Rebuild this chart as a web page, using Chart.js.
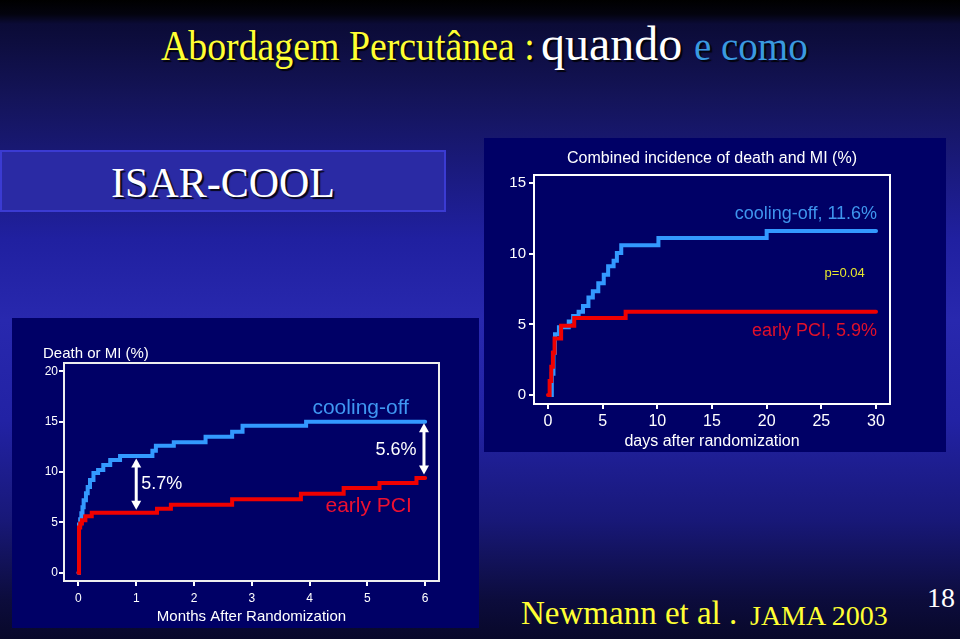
<!DOCTYPE html>
<html>
<head>
<meta charset="utf-8">
<script src="https://cdn.jsdelivr.net/npm/chart.js@4.4.1/dist/chart.umd.min.js"></script>
<style>
html,body{margin:0;padding:0;}
body{width:960px;height:639px;overflow:hidden;position:relative;
  background:linear-gradient(to bottom,#000000 0px,#03030e 14px,#0b0b36 24px,#14145a 100px,#2020a0 240px,#2828ae 320px,#2222a4 420px,#181878 520px,#0c0c3c 600px,#08082a 639px);}
.t{position:absolute;font-family:"Liberation Serif","Times New Roman",serif;white-space:nowrap;line-height:1;}
.sh{text-shadow:2px 2px 1px rgba(0,0,0,0.85);}
.panel{position:absolute;background:#000066;}
canvas{display:block;}
</style>
</head>
<body>
<div class="t sh" style="left:161px;top:25px;font-size:42px;color:#ffff33;transform:scaleX(0.9);transform-origin:0 0;">Abordagem Percutânea :</div>
<div class="t sh" style="left:541px;top:20px;font-size:48px;color:#ffffff;">quando</div>
<div class="t sh" style="left:694px;top:27px;font-size:39px;color:#3a9ae0;">e como</div>

<div style="position:absolute;left:0;top:150px;width:446px;height:62px;box-sizing:border-box;border:2px solid #3b3bd2;background:#2a2aa4;"></div>
<div class="t sh" style="left:0;width:446px;text-align:center;top:161.5px;font-size:42px;color:#ffffff;">ISAR-COOL</div>

<div class="panel" style="left:12px;top:318px;width:467px;height:310px;"><canvas id="cl" width="467" height="310"></canvas></div>
<div class="panel" style="left:484px;top:138px;width:462px;height:314px;"><canvas id="cr" width="462" height="314"></canvas></div>

<div class="t" style="left:521px;top:597px;font-size:33px;color:#ffff33;">Newmann et al .</div>
<div class="t" style="left:750px;top:601.5px;font-size:28px;color:#ffff33;">JAMA 2003</div>
<div class="t" style="left:927px;top:584px;font-size:28px;color:#ffffff;">18</div>

<script>
// ---------- Left chart (6 months) ----------
const monthTicks = [0, 1, 2, 3, 4, 5, 6];
const leftPctTicks = [0, 5, 10, 15, 20];
const coolMonths = [0, 0.01, 0.03, 0.05, 0.07, 0.09, 0.13, 0.16, 0.2, 0.26, 0.34, 0.43, 0.55, 0.72, 1.28, 1.34, 1.65, 2.2, 2.66, 2.84, 3.94, 6.0];
const coolPctLeft = [0, 4.8, 5.3, 5.9, 6.5, 7.2, 7.9, 8.5, 9.2, 9.9, 10.2, 10.7, 11.2, 11.6, 12.1, 12.6, 12.95, 13.5, 14.0, 14.6, 15.0, 15.0];
const pciMonths = [0, 0.01, 0.03, 0.06, 0.12, 0.23, 1.36, 1.6, 2.66, 3.85, 4.59, 5.21, 5.85, 6.0];
const pciPctLeft = [0, 4.5, 4.9, 5.2, 5.6, 5.95, 6.35, 6.75, 7.3, 7.85, 8.4, 8.9, 9.4, 9.4];
const gapMonths = [1.0, 5.98];
const gapLow = [6.25, 9.75];
const gapHigh = [11.35, 14.85];
const gapLabels = ['5.7%', '5.6%'];

// ---------- Right chart (30 days) ----------
const dayTicks = [0, 5, 10, 15, 20, 25, 30];
const rightPctTicks = [0, 5, 10, 15];
const coolDays = [0.2, 0.35, 0.5, 0.64, 1.0, 1.9, 2.3, 2.8, 3.2, 3.7, 4.1, 4.6, 5.1, 5.5, 6.0, 6.3, 6.7, 10.1, 20.0, 30];
const coolPctRight = [0, 1.5, 3.0, 4.3, 4.8, 5.2, 5.6, 5.9, 6.3, 6.9, 7.35, 7.9, 8.5, 9.1, 9.5, 10.05, 10.6, 11.1, 11.6, 11.6];
const pciDays = [0, 0.15, 0.3, 0.45, 0.6, 1.2, 2.4, 7.1, 30];
const pciPctRight = [0, 1.0, 2.0, 3.0, 4.0, 4.9, 5.45, 5.9, 5.9];

const SANS = '"Liberation Sans", Arial, sans-serif';
const BLUE = '#3399ff';
const RED = '#f00000';

function pts(xs, ys) { return xs.map((v, i) => ({ x: v, y: ys[i] })); }

const deco = {
  id: 'deco',
  beforeDatasetsDraw(chart, args, o) {
    const { ctx, chartArea: a } = chart;
    ctx.save();
    ctx.strokeStyle = o.frameColor || '#fff';
    ctx.lineWidth = 2;
    ctx.strokeRect(a.left, a.top, a.right - a.left, a.bottom - a.top);
    ctx.restore();
  },
  afterDatasetsDraw(chart, args, o) {
    const { ctx, chartArea: a, scales } = chart;
    const sx = scales.x, sy = scales.y;
    ctx.save();
    (o.arrows || []).forEach(ar => {
      const x = sx.getPixelForValue(ar.x);
      const y1 = sy.getPixelForValue(ar.lo), y2 = sy.getPixelForValue(ar.hi);
      const hl = 9, hw = 5;
      ctx.strokeStyle = '#fff'; ctx.fillStyle = '#fff'; ctx.lineWidth = 3;
      ctx.beginPath(); ctx.moveTo(x, y1 - hl + 1); ctx.lineTo(x, y2 + hl - 1); ctx.stroke();
      ctx.beginPath(); ctx.moveTo(x, y2); ctx.lineTo(x - hw, y2 + hl); ctx.lineTo(x + hw, y2 + hl); ctx.closePath(); ctx.fill();
      ctx.beginPath(); ctx.moveTo(x, y1); ctx.lineTo(x - hw, y1 - hl); ctx.lineTo(x + hw, y1 - hl); ctx.closePath(); ctx.fill();
    });
    (o.texts || []).forEach(t => {
      ctx.font = t.font; ctx.fillStyle = t.color; ctx.textAlign = t.align || 'left';
      ctx.textBaseline = 'alphabetic';
      const px = t.cx !== undefined ? (t.cx === 'mid' ? (a.left + a.right) / 2 : t.cx) : sx.getPixelForValue(t.x);
      const py = t.cy !== undefined ? t.cy : sy.getPixelForValue(t.y);
      ctx.fillText(t.text, px, py);
    });
    ctx.restore();
  }
};

function axis(min, max, tickVals, fit, fontSize, pad, horizontal) {
  return {
    type: 'linear', min, max,
    afterBuildTicks: s => { s.ticks = tickVals.map(v => ({ value: v })); },
    afterFit: s => { if (horizontal) s.height = fit; else s.width = fit; },
    grid: { display: true, drawOnChartArea: false, drawTicks: true, tickLength: 5, color: '#ffffff', lineWidth: 2 },
    border: { display: false },
    ticks: { color: '#ffffff', font: { family: SANS, size: fontSize }, padding: pad, maxRotation: 0, autoSkip: false }
  };
}

function lineDs(data, color, width) {
  return { data, borderColor: color, backgroundColor: color, borderWidth: width, pointRadius: 0,
    stepped: true, fill: false, borderJoinStyle: 'miter', borderCapStyle: 'round', tension: 0 };
}

const common = {
  responsive: false, animation: false, devicePixelRatio: 1,
  plugins: { legend: { display: false }, tooltip: { enabled: false } }
};

// Left chart
new Chart(document.getElementById('cl'), {
  type: 'line',
  data: { datasets: [
    lineDs(pts(pciMonths, pciPctLeft), RED, 4),
    lineDs(pts(coolMonths, coolPctLeft), BLUE, 4)
  ] },
  options: Object.assign({}, common, {
    layout: { padding: { left: 0, right: 40, top: 45, bottom: 0 } },
    scales: {
      x: axis(-0.25, 6.24, monthTicks, 47, 12, 5, true),
      y: axis(-0.82, 20.82, leftPctTicks, 52, 12, 1, false)
    },
    plugins: Object.assign({}, common.plugins, {
      deco: {
        frameColor: '#eeeeee',
        arrows: gapMonths.map((m, i) => ({ x: m, lo: gapLow[i], hi: gapHigh[i] })),
        texts: [
          { text: 'Death or MI (%)', cx: 31, cy: 40, font: '15px ' + SANS, color: '#ffffff' },
          { text: 'Months After Randomization', cx: 'mid', cy: 303, font: '15px ' + SANS, color: '#ffffff', align: 'center' },
          { text: 'cooling-off', x: 5.72, y: 15.8, font: '21px ' + SANS, color: '#3f97f2', align: 'right' },
          { text: 'early PCI', x: 5.77, y: 6.03, font: '21px ' + SANS, color: '#ee1030', align: 'right' },
          { text: gapLabels[0], x: 1.085, y: 8.35, font: '18px ' + SANS, color: '#ffffff', align: 'left' },
          { text: gapLabels[1], x: 5.85, y: 11.65, font: '18px ' + SANS, color: '#ffffff', align: 'right' }
        ]
      }
    })
  }),
  plugins: [deco]
});

// Right chart
new Chart(document.getElementById('cr'), {
  type: 'line',
  data: { datasets: [
    lineDs(pts(pciDays, pciPctRight), RED, 4),
    lineDs(pts(coolDays, coolPctRight), BLUE, 4)
  ] },
  options: Object.assign({}, common, {
    layout: { padding: { left: 0, right: 56, top: 37, bottom: 0 } },
    scales: {
      x: axis(-1.28, 31.28, dayTicks, 48, 16, 3, true),
      y: axis(-0.63, 15.56, rightPctTicks, 50, 15, 3, false)
    },
    plugins: Object.assign({}, common.plugins, {
      deco: {
        frameColor: '#ffffff',
        texts: [
          { text: 'Combined incidence of death and MI (%)', cx: 'mid', cy: 25, font: '16px ' + SANS, color: '#ffffff', align: 'center' },
          { text: 'days after randomization', cx: 'mid', cy: 308, font: '16px ' + SANS, color: '#ffffff', align: 'center' },
          { text: 'cooling-off, 11.6%', x: 30.1, y: 12.44, font: '18px ' + SANS, color: '#3f95ee', align: 'right' },
          { text: 'p=0.04', x: 25.3, y: 8.33, font: '13px ' + SANS, color: '#e6e62e', align: 'left' },
          { text: 'early PCI, 5.9%', x: 30.1, y: 4.15, font: '18px ' + SANS, color: '#e0102a', align: 'right' }
        ]
      }
    })
  }),
  plugins: [deco]
});
</script>
</body>
</html>
